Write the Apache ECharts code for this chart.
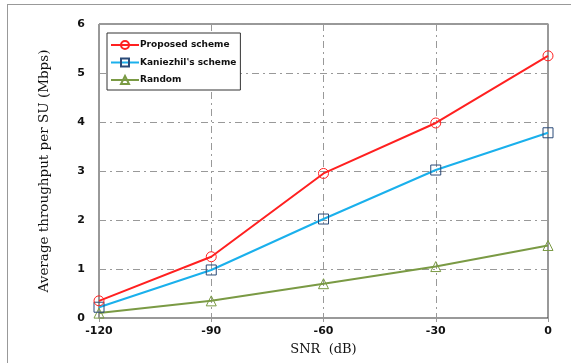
<!DOCTYPE html>
<html><head><meta charset="utf-8">
<script src="https://cdn.jsdelivr.net/npm/echarts@6/dist/echarts.min.js"></script>
<style>html,body{margin:0;padding:0;background:#fff}#c{width:571px;height:363px}</style>
</head><body><div id="c"></div>
<script>
const snr = [-120, -90, -60, -30, 0];
const proposed = [0.35, 1.25, 2.95, 3.98, 5.35];
const kaniezhil = [0.22, 0.98, 2.02, 3.02, 3.78];
const randomS = [0.10, 0.35, 0.70, 1.05, 1.48];
const seriesNames = ['Proposed scheme', "Kaniezhil's scheme", 'Random'];
const yTicks = [0, 1, 2, 3, 4, 5, 6];

const chart = echarts.init(document.getElementById('c'));
const pair = (arr) => snr.map((x, i) => [x, arr[i]]);
const grid = {left: 99, right: 23, top: 24, bottom: 45};
const gridLine = {show: true, lineStyle: {color: '#999', width: 1, type: [7, 4, 2, 4]}};
chart.setOption({
  animation: false,
  backgroundColor: '#fff',
  grid: Object.assign({show: true, borderColor: '#333', borderWidth: 1}, grid),
  graphic: [
    {type: 'line', shape: {x1: 7, y1: 4.5, x2: 571, y2: 4.5}, style: {stroke: '#999', lineWidth: 1}},
    {type: 'line', shape: {x1: 7.5, y1: 4, x2: 7.5, y2: 363}, style: {stroke: '#999', lineWidth: 1}}
  ],
  legend: {
    left: 107, top: 33, orient: 'vertical', itemGap: 7.5, itemWidth: 28, itemHeight: 10,
    padding: [7, 4, 5, 3],
    borderColor: '#333', borderWidth: 1, backgroundColor: '#fff',
    textStyle: {fontFamily: 'DejaVu Sans', fontWeight: 'bold', fontSize: 9, color: '#111', padding: [0, 0, 0, -4]},
    data: seriesNames
  },
  xAxis: {
    type: 'value', min: -120, max: 0, interval: 30,
    name: 'SNR  (dB)', nameLocation: 'middle', nameGap: 25,
    nameTextStyle: {fontFamily: 'DejaVu Serif', fontSize: 13, color: '#111'},
    axisLine: {show: true, onZero: false, lineStyle: {color: '#999', width: 1}},
    axisTick: {show: true, length: 4, lineStyle: {color: '#999'}},
    axisLabel: {fontFamily: 'DejaVu Sans', fontWeight: 'bold', fontSize: 11, color: '#111', margin: 8},
    splitLine: gridLine
  },
  yAxis: {
    type: 'value', min: 0, max: 6, interval: 1,
    name: 'Average throughput per SU (Mbps)', nameLocation: 'middle', nameGap: 48,
    nameTextStyle: {fontFamily: 'DejaVu Serif', fontSize: 13.5, color: '#111'},
    axisLine: {show: true, lineStyle: {color: '#999', width: 1}},
    axisTick: {show: true, length: 4, lineStyle: {color: '#999'}},
    axisLabel: {fontFamily: 'DejaVu Sans', fontWeight: 'bold', fontSize: 11, color: '#111', margin: 14,
      formatter: (v) => yTicks.includes(v) ? String(v) : ''},
    splitLine: gridLine
  },
  series: [
    {name: seriesNames[0], type: 'line', data: pair(proposed), symbol: 'circle', symbolSize: 10,
     lineStyle: {color: '#ff2020', width: 2}, itemStyle: {color: 'rgba(255,255,255,0)', borderColor: '#ff2020', borderWidth: 1},
     z: 4},
    {name: seriesNames[1], type: 'line', data: pair(kaniezhil), symbol: 'rect', symbolSize: 10,
     lineStyle: {color: '#1ab0ec', width: 2}, itemStyle: {color: 'rgba(255,255,255,0)', borderColor: '#2a4a78', borderWidth: 1},
     z: 3},
    {name: seriesNames[2], type: 'line', data: pair(randomS), symbol: 'triangle', symbolSize: 10,
     lineStyle: {color: '#7a9a44', width: 2}, itemStyle: {color: 'rgba(255,255,255,0)', borderColor: '#7a9a44', borderWidth: 1},
     z: 2}
  ]
});
</script></body></html>
